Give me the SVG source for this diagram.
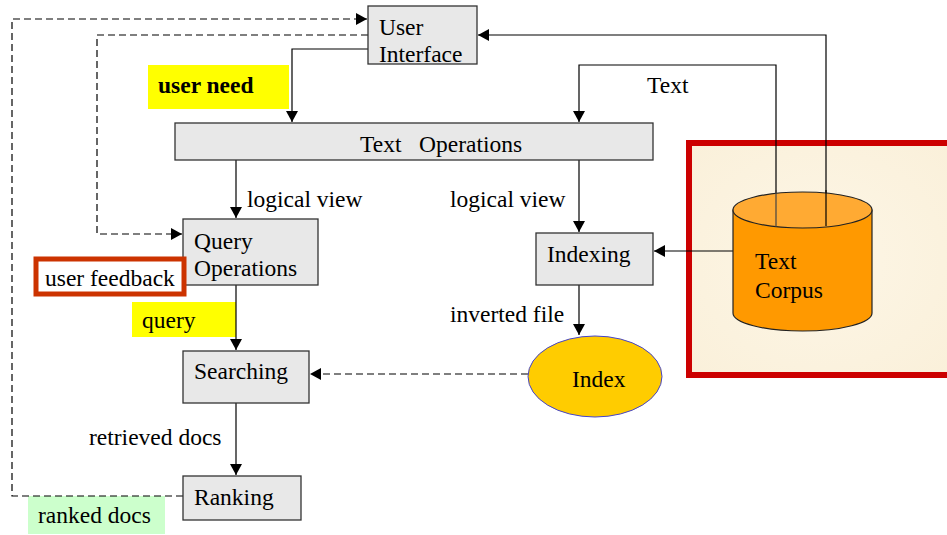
<svg xmlns="http://www.w3.org/2000/svg" width="947" height="535" viewBox="0 0 947 535">
<defs>
<marker id="arr" markerUnits="userSpaceOnUse" markerWidth="12" markerHeight="12" viewBox="0 0 12 12" refX="11" refY="6" orient="auto">
<path d="M0,0 L11,6 L0,12 Z" fill="#000"/>
</marker>
<radialGradient id="parch" cx="50%" cy="50%" r="70%">
<stop offset="0" stop-color="#FDF6E6"/>
<stop offset="1" stop-color="#FAF0DA"/>
</radialGradient>
</defs>
<style>
text{font-family:"Liberation Serif","Times New Roman",serif;font-size:23.5px;fill:#000}
.box{fill:#E8E8E8;stroke:#333;stroke-width:1.3}
.ln{fill:none;stroke:#000;stroke-width:1.2}
.dash{fill:none;stroke:#000;stroke-width:1.2;stroke-dasharray:7,4}
</style>
<rect width="947" height="535" fill="#fff"/>

<g id="corpus-frame">
<rect x="689" y="143" width="262" height="232" fill="url(#parch)" stroke="#CC0000" stroke-width="6"/>
</g>

<g id="label-user-need">
<rect x="148" y="65" width="141" height="44" fill="#FFFF00"/>
<text x="158" y="93" font-weight="bold">user need</text>
</g>
<g id="label-query">
<rect x="132" y="302" width="104" height="35" fill="#FFFF00"/>
<text x="142" y="328">query</text>
</g>
<g id="label-ranked-docs">
<rect x="28" y="496" width="137" height="38" fill="#CCFFCC"/>
<text x="38" y="523">ranked docs</text>
</g>

<g id="connectors">
<polyline class="dash" points="183,496 12,496 12,19 367,19" marker-end="url(#arr)"/>
<polyline class="dash" points="368,35 97,35 97,234 182,234" marker-end="url(#arr)"/>
<polyline class="ln" points="368,49 292,49 292,122" marker-end="url(#arr)"/>
<polyline class="ln" points="826,226 826,35 478,35" marker-end="url(#arr)"/>
<polyline class="ln" stroke="#444" points="776,226 776,65 579,65 579,122" marker-end="url(#arr)"/>
<line class="ln" x1="236" y1="160" x2="236" y2="218" marker-end="url(#arr)"/>
<line class="ln" x1="579" y1="160" x2="579" y2="232" marker-end="url(#arr)"/>
<line class="ln" x1="733" y1="251" x2="654" y2="251" marker-end="url(#arr)"/>
<line class="ln" x1="579" y1="285" x2="579" y2="335" marker-end="url(#arr)"/>
<line class="ln" x1="236" y1="285" x2="236" y2="350" marker-end="url(#arr)"/>
<line class="ln" x1="236" y1="403" x2="236" y2="475" marker-end="url(#arr)"/>
<line class="dash" x1="528" y1="374" x2="310" y2="374" marker-end="url(#arr)"/>
<text x="647" y="93">Text</text>
<text x="247" y="207">logical view</text>
<text x="450" y="207">logical view</text>
<text x="450" y="322">inverted file</text>
<text x="89" y="445">retrieved docs</text>
</g>

<g id="text-corpus">
<path d="M733,210 L733,313 A69.5,18 0 0 0 872,313 L872,210 Z" fill="#FF9900" stroke="#222" stroke-width="1.2"/>
<ellipse cx="802.5" cy="210" rx="69.5" ry="18" fill="#FFAA33" stroke="#222" stroke-width="1.2"/>
<line x1="776" y1="190" x2="776" y2="227" stroke="#444" stroke-width="1.2"/>
<line x1="826" y1="190" x2="826" y2="226" stroke="#000" stroke-width="1.2"/>
<text x="755" y="269">Text</text>
<text x="755" y="298">Corpus</text>
</g>

<g id="user-interface">
<rect class="box" x="368" y="6" width="109" height="58"/>
<text x="379" y="35">User</text>
<text x="379" y="62">Interface</text>
</g>
<g id="text-operations">
<rect class="box" x="175" y="123" width="478" height="37"/>
<text x="360" y="152" xml:space="preserve">Text   Operations</text>
</g>
<g id="query-operations">
<rect class="box" x="183" y="219" width="135" height="66"/>
<text x="194" y="249">Query</text>
<text x="194" y="276">Operations</text>
</g>
<g id="user-feedback">
<rect x="36" y="259" width="148" height="35" fill="#fff" stroke="#CC3300" stroke-width="5"/>
<text x="45" y="286">user feedback</text>
</g>
<g id="indexing">
<rect class="box" x="536" y="233" width="117" height="52"/>
<text x="547" y="262">Indexing</text>
</g>
<g id="index">
<ellipse cx="595" cy="376.5" rx="67" ry="40.5" fill="#FFCC00" stroke="#4444CC" stroke-width="1"/>
<text x="572" y="387">Index</text>
</g>
<g id="searching">
<rect class="box" x="183" y="351" width="126" height="52"/>
<text x="194" y="379">Searching</text>
</g>
<g id="ranking">
<rect class="box" x="183" y="476" width="118" height="44"/>
<text x="194" y="505">Ranking</text>
</g>
</svg>
